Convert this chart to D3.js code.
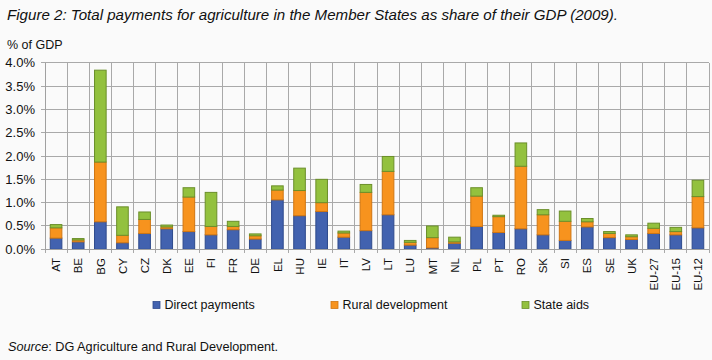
<!DOCTYPE html>
<html><head><meta charset="utf-8">
<script src="https://cdn.jsdelivr.net/npm/d3@7"></script>
<style>
html,body{margin:0;padding:0;background:#fafafa;}
svg{display:block;font-family:"Liberation Sans",Arial,sans-serif;}
</style></head>
<body>
<svg id="c" width="712" height="360"></svg>
<script>
const categories = ["AT","BE","BG","CY","CZ","DK","EE","FI","FR","DE","EL","HU","IE","IT","LV","LT","LU","MT","NL","PL","PT","RO","SK","SI","ES","SE","UK","EU-27","EU-15","EU-12"];
const directPayments = [0.24,0.16,0.59,0.14,0.34,0.44,0.38,0.31,0.42,0.22,1.06,0.72,0.81,0.26,0.40,0.74,0.09,0.03,0.13,0.49,0.36,0.44,0.31,0.19,0.48,0.25,0.21,0.34,0.31,0.46];
const ruralDevelopment = [0.22,0.04,1.28,0.16,0.30,0.04,0.74,0.18,0.07,0.07,0.21,0.54,0.19,0.09,0.82,0.93,0.06,0.22,0.03,0.65,0.34,1.34,0.43,0.41,0.11,0.09,0.06,0.11,0.07,0.67];
const stateAids = [0.07,0.03,1.97,0.61,0.16,0.04,0.20,0.73,0.11,0.04,0.09,0.48,0.50,0.04,0.17,0.32,0.04,0.25,0.10,0.18,0.03,0.50,0.11,0.22,0.07,0.04,0.04,0.11,0.09,0.35];
const seriesNames = ["Direct payments","Rural development","State aids"];
const yTicks = [0,0.5,1,1.5,2,2.5,3,3.5,4];

const fills = ["#4262AF","#F7931E","#93C13E"];
const strokes = ["#2E4A8C","#D07612","#6B8F2A"];

const svg = d3.select("#c");
const L = 45, R = 709, T = 62.7, B = 249.3;

const rows = categories.map((c,i)=>({cat:c, dp:directPayments[i], rd:ruralDevelopment[i], sa:stateAids[i]}));
const stack = d3.stack().keys(["dp","rd","sa"])(rows);

const x = d3.scaleBand().domain(categories).range([L,R]).paddingInner(0.43).paddingOuter(0.215);
const xg = d3.scaleBand().domain(categories).range([L,R]);
const y = d3.scaleLinear().domain([0,4]).range([B,T]);

// title
const title = svg.append("text").attr("x",7).attr("y",20)
  .attr("font-size",14).attr("font-style","italic").attr("fill","#111")
  .text("Figure 2: Total payments for agriculture in the Member States as share of their GDP (2009).");
title.attr("textLength",611).attr("lengthAdjust","spacingAndGlyphs");

svg.append("text").attr("x",7).attr("y",49).attr("font-size",12.5).attr("fill","#111").text("% of GDP");

// grid
const grid = svg.append("g");
grid.selectAll("line.h").data(yTicks).join("line")
  .attr("x1",L-4).attr("x2",R).attr("y1",d=>y(d)).attr("y2",d=>y(d))
  .attr("stroke","#a9a9a9").attr("stroke-width",1).attr("shape-rendering","crispEdges");
const bounds = categories.map(c=>xg(c)).concat([R]);
grid.selectAll("line.v").data(bounds).join("line")
  .attr("x1",d=>d).attr("x2",d=>d).attr("y1",T).attr("y2",B+4)
  .attr("stroke","#a9a9a9").attr("stroke-width",1).attr("shape-rendering","crispEdges");

// y labels
svg.append("g").selectAll("text").data(yTicks).join("text")
  .attr("x",35).attr("y",d=>y(d)+4.5).attr("text-anchor","end")
  .attr("font-size",13).attr("fill","#111").text(d=>d.toFixed(1)+"%");

// bars
stack.forEach((s,k)=>{
  svg.append("g").selectAll("rect").data(s).join("rect")
    .attr("x",d=>x(d.data.cat)+0.5).attr("width",x.bandwidth()-1)
    .attr("y",d=>y(d[1])).attr("height",d=>Math.max(0,y(d[0])-y(d[1])))
    .attr("fill",fills[k]).attr("stroke",strokes[k]).attr("stroke-width",1);
});

// axis lines
svg.append("line").attr("x1",L).attr("x2",R).attr("y1",B).attr("y2",B).attr("stroke","#a0a0a0").attr("shape-rendering","crispEdges");
svg.append("line").attr("x1",L).attr("x2",L).attr("y1",T).attr("y2",B).attr("stroke","#a0a0a0").attr("shape-rendering","crispEdges");

// x labels
svg.append("g").selectAll("text").data(categories).join("text")
  .attr("transform",d=>`translate(${xg(d)+xg.bandwidth()/2+4.2},258) rotate(-90)`)
  .attr("text-anchor","end").attr("font-size",11.5).attr("fill","#111").text(d=>d);

// legend
const legX = [153,331,522];
const lg = svg.append("g").selectAll("g").data(seriesNames).join("g")
  .attr("transform",(d,i)=>`translate(${legX[i]},301.5)`);
lg.append("rect").attr("width",7).attr("height",7).attr("fill",(d,i)=>fills[i]).attr("stroke",(d,i)=>strokes[i]).attr("stroke-width",0.8);
lg.append("text").attr("x",11.5).attr("y",7.8).attr("font-size",12.5).attr("fill","#111").text(d=>d);

// source
const src = svg.append("text").attr("x",8).attr("y",351).attr("font-size",12.7).attr("fill","#111");
src.append("tspan").attr("font-style","italic").text("Source");
src.append("tspan").text(": DG Agriculture and Rural Development.");
</script>
</body></html>
